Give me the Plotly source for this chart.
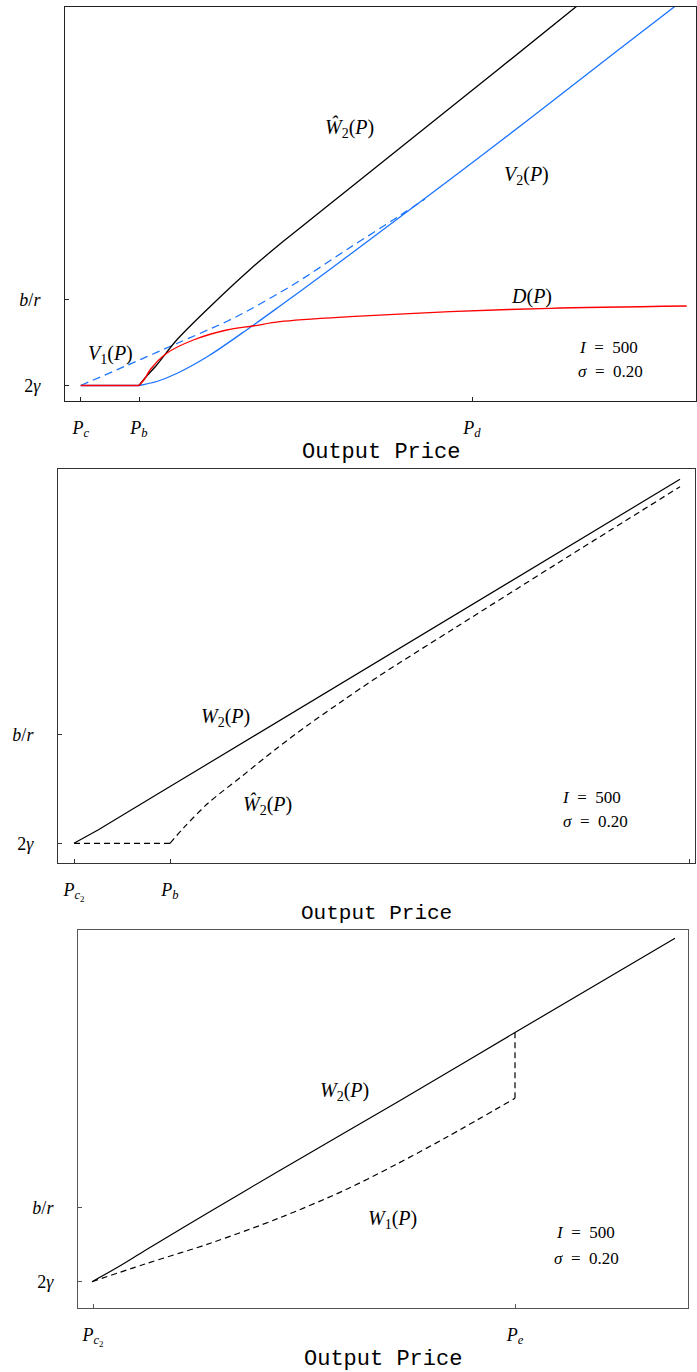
import plotly.graph_objects as go

W, H = 697, 1372

# ---------------- data: top panel (values vs output price) ----------------
p1_ticks_x = [1.57, 7.4, 40.7]          # P_c, P_b, P_d
p1_ticks_x_text = ["<i>P</i><sub><i>c</i></sub>", "<i>P</i><sub><i>b</i></sub>", "<i>P</i><sub><i>d</i></sub>"]
p1_ticks_y = [1.55, 10.17]              # 2γ, b/r
p1_ticks_y_text = ["2<i>γ</i>", "<i>b</i>/<i>r</i>"]

w2hat_x = [7.4, 8.0, 9.17, 11.17, 14.5, 18.5, 21.5, 23.5, 28.5, 33.5, 38.5, 43.5, 51.2]
w2hat_y = [1.55, 2.3, 3.6, 6.1, 9.43, 13.15, 15.7, 17.3, 21.3, 25.3, 29.3, 33.3, 39.5]

v2_x = [1.57, 7.4, 9.17, 11.17, 14.5, 18.5, 21.5, 23.5, 28.5, 33.5, 38.5, 43.5, 48.5, 55.0, 61.17]
v2_y = [1.55, 1.55, 1.95, 2.75, 4.6, 7.35, 9.5, 10.95, 14.65, 18.4, 22.15, 25.95, 29.8, 34.85, 39.6]

v1_x = [1.57, 6.17, 11.17, 16.17, 18.5, 21.5, 23.5, 28.5, 33.5, 36.0]
v1_y = [1.55, 3.55, 5.75, 7.95, 9.15, 10.85, 12.05, 15.35, 18.55, 20.2]

d_x = [1.57, 7.4, 8.0, 8.5, 10.17, 12.83, 16.17, 18.8, 21.5, 28.5, 38.5, 48.5, 62.17]
d_y = [1.55, 1.55, 2.25, 3.1, 4.77, 6.1, 7.1, 7.5, 7.93, 8.43, 8.93, 9.27, 9.5]

# ---------------- data: middle panel ----------------
p2_ticks_x = [1.6, 11.2, 63.13]         # P_c2, P_b, P_e
p2_ticks_x_text = ["<i>P</i><sub><i>c</i><sub>2</sub></sub>", "<i>P</i><sub><i>b</i></sub>", "<i>P</i><sub><i>e</i></sub>"]
p2_ticks_y = [1.97, 12.87]
p2_ticks_y_text = ["2<i>γ</i>", "<i>b</i>/<i>r</i>"]

w2_mid_x = [1.6, 4.0, 10.0, 20.0, 30.0, 40.0, 50.0, 62.2]
w2_mid_y = [1.97, 3.3, 6.92, 12.94, 18.97, 24.99, 31.02, 38.37]

w2hat_mid_x = [1.6, 11.2, 12.67, 15.0, 18.33, 21.67, 25.0, 28.33, 32.0, 40.0, 50.0, 62.2]
w2hat_mid_y = [1.97, 1.97, 3.63, 5.97, 8.63, 11.3, 13.8, 16.13, 18.63, 23.7, 30.0, 37.63]

# ---------------- data: bottom panel ----------------
p3_ticks_x = [1.5, 43.7]                # P_c2, P_e
p3_ticks_x_text = ["<i>P</i><sub><i>c</i><sub>2</sub></sub>", "<i>P</i><sub><i>e</i></sub>"]
p3_ticks_y = [2.63, 10.07]
p3_ticks_y_text = ["2<i>γ</i>", "<i>b</i>/<i>r</i>"]

w2_bot_x = [1.4, 4.0, 6.7, 13.3, 20.0, 26.7, 32.0, 43.7, 59.7]
w2_bot_y = [2.63, 4.1, 5.75, 9.7, 13.65, 17.55, 20.63, 27.55, 36.97]

# last point: jump up to W2 at P_e
w1_bot_x = [1.4, 6.7, 13.3, 20.0, 26.7, 31.7, 36.9, 43.7, 43.7]
w1_bot_y = [2.63, 4.4, 6.5, 8.95, 11.8, 14.3, 17.1, 20.97, 27.55]

# ---------------- layout helpers ----------------
# panel boxes in page pixels: left, top, right, bottom
boxes = [(65, 7, 696, 401), (58, 469, 695, 863), (78, 930, 688, 1308)]
ranges = [((0, 63.1), (0, 39.4)), ((0, 63.7), (0, 39.4)), ((0, 61.0), (0, 37.8))]
frame_colors = ["#222222", "#333333", "#555555"]

BLUE = "#1a74ff"
RED = "#ff0000"
MATH = "Liberation Serif"
MONO = "Liberation Mono"

fig = go.Figure()

def line(x, y, color, ax, dash="solid", width=1.3, smooth=False):
    fig.add_trace(go.Scatter(x=x, y=y, mode="lines", xaxis="x" + ax, yaxis="y" + ax,
                             line=dict(color=color, width=width, dash=dash,
                                       shape="spline" if smooth else "linear",
                                       smoothing=0.9 if smooth else None),
                             showlegend=False, hoverinfo="skip"))

# top panel
line(v2_x[:2], v2_y[:2], BLUE, "")
line(v2_x[1:], v2_y[1:], BLUE, "", smooth=True)
line(v1_x, v1_y, BLUE, "", dash="8px,5px", smooth=True)
line(w2hat_x, w2hat_y, "black", "", smooth=True)
line(d_x[:2], d_y[:2], RED, "")
line(d_x[1:], d_y[1:], RED, "", smooth=True)
# middle panel
line(w2_mid_x, w2_mid_y, "black", "2", width=1.2)
line(w2hat_mid_x[:2], w2hat_mid_y[:2], "black", "2", dash="6px,4px", width=1.2)
line(w2hat_mid_x[1:], w2hat_mid_y[1:], "black", "2", dash="6px,4px", width=1.2, smooth=True)
# bottom panel
line(w2_bot_x, w2_bot_y, "black", "3", width=1.2, smooth=True)
line(w1_bot_x[:-1], w1_bot_y[:-1], "black", "3", dash="6px,4px", width=1.2, smooth=True)
line(w1_bot_x[-2:], w1_bot_y[-2:], "black", "3", dash="6px,4px", width=1.2)

ticks = [(p1_ticks_x, p1_ticks_x_text, p1_ticks_y, p1_ticks_y_text),
         (p2_ticks_x, p2_ticks_x_text, p2_ticks_y, p2_ticks_y_text),
         (p3_ticks_x, p3_ticks_x_text, p3_ticks_y, p3_ticks_y_text)]

layout = dict(width=W, height=H, margin=dict(l=0, r=0, t=0, b=0), autosize=False,
              paper_bgcolor="white", plot_bgcolor="white")
annotations = []
for i, ((l, t, r, b), (xr, yr), fc, (tx, txt, ty, tyt)) in enumerate(zip(boxes, ranges, frame_colors, ticks)):
    sfx = "" if i == 0 else str(i + 1)
    common = dict(showgrid=False, zeroline=False, showline=True, mirror=True, linecolor=fc,
                  linewidth=1, ticks="inside", ticklen=4, tickcolor=fc, tickwidth=1,
                  tickmode="array", fixedrange=True)
    layout["xaxis" + sfx] = dict(common, domain=[l / W, r / W], range=list(xr),
                                 anchor="y" + sfx, tickvals=tx, ticktext=txt,
                                 ticklabelstandoff=10,
                                 tickfont=dict(family=MATH, size=18, color="black"))
    layout["yaxis" + sfx] = dict(common, domain=[1 - b / H, 1 - t / H], range=list(yr),
                                 anchor="x" + sfx, tickvals=ty, ticktext=tyt,
                                 ticklabelstandoff=20,
                                 tickfont=dict(family=MATH, size=18, color="black"))
    annotations.append(dict(text="Output Price", xref="paper", yref="paper",
                            x=((l + r) / 2) / W, y=1 - (b + 51) / H,
                            xanchor="center", yanchor="middle", showarrow=False,
                            font=dict(family=MONO, size=22 if i != 1 else 21, color="black")))

def label(text, x, y, ax, size=20):
    annotations.append(dict(text=text, x=x, y=y, xref="x" + ax, yref="y" + ax,
                            xanchor="center", yanchor="middle", showarrow=False,
                            font=dict(family=MATH, size=size, color="black")))

label("<i>Ŵ</i><sub>2</sub>(<i>P</i>)", 28.4, 27.3, "")
label("<i>V</i><sub>2</sub>(<i>P</i>)", 46.1, 22.5, "")
label("<i>D</i>(<i>P</i>)", 46.6, 10.4, "")
label("<i>V</i><sub>1</sub>(<i>P</i>)", 4.5, 4.6, "")
label("<i>I</i>  =  500", 54.3, 5.3, "", 17)
label("<i>σ</i>  =  0.20", 54.5, 2.9, "", 17)

label("<i>W</i><sub>2</sub>(<i>P</i>)", 16.7, 14.6, "2")
label("<i>Ŵ</i><sub>2</sub>(<i>P</i>)", 20.9, 5.8, "2")
label("<i>I</i>  =  500", 53.3, 6.6, "2", 17)
label("<i>σ</i>  =  0.20", 53.7, 4.2, "2", 17)

label("<i>W</i><sub>2</sub>(<i>P</i>)", 26.6, 21.7, "3")
label("<i>W</i><sub>1</sub>(<i>P</i>)", 31.4, 8.9, "3")
label("<i>I</i>  =  500", 50.7, 7.6, "3", 17)
label("<i>σ</i>  =  0.20", 50.8, 5.0, "3", 17)

layout["annotations"] = annotations
fig.update_layout(**layout)
fig.write_html("out.html")
